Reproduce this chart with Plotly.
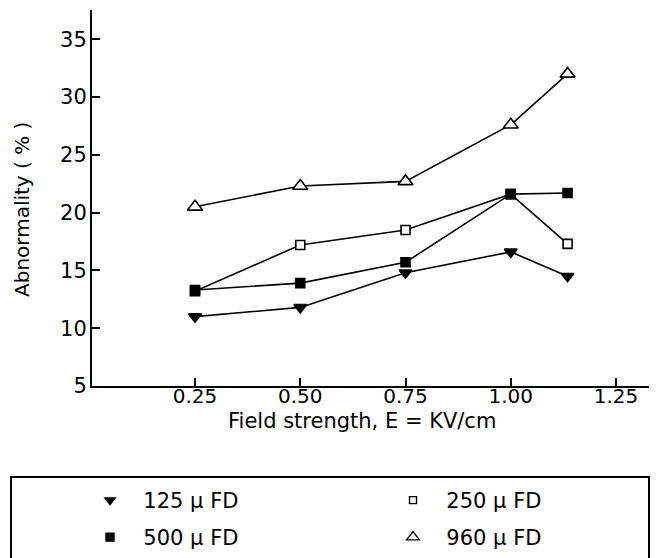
import plotly.graph_objects as go

# ---- data ----
field = [0.25, 0.50, 0.75, 1.00, 1.135]
s125 = [11.0, 11.8, 14.8, 16.6, 14.5]
s250 = [13.2, 17.2, 18.5, 21.6, 17.3]
s500 = [13.3, 13.9, 15.7, 21.6, 21.7]
s960 = [20.5, 22.3, 22.7, 27.6, 32.0]
names = ["125 \u03bc FD", "250 \u03bc FD", "500 \u03bc FD", "960 \u03bc FD"]
xtick_vals = [0.25, 0.50, 0.75, 1.00, 1.25]
xtick_text = ["0.25", "0.50", "0.75", "1.00", "1.25"]
ytick_vals = [5, 10, 15, 20, 25, 30, 35]

FONT = "DejaVu Sans"
series = [s125, s250, s500, s960]
symbols = ["triangle-down", "square", "square", "triangle-up"]
fills = ["black", "white", "black", "white"]
sizes = [11, 9, 9, 13]
legend_sizes = [9, 7, 8, 11]
legend_ids = ["legend", "legend", "legend2", "legend2"]
legend_widths = [258, 150, 258, 150]

fig = go.Figure()
for ys in series:
    fig.add_trace(go.Scatter(x=field, y=ys, mode="lines",
                             line=dict(color="black", width=1.6),
                             showlegend=False, hoverinfo="skip"))
for ys, sym, fc, sz in zip(series, symbols, fills, sizes):
    fig.add_trace(go.Scatter(x=field, y=ys, mode="markers",
                             marker=dict(symbol=sym, size=sz, color=fc,
                                         line=dict(color="black", width=1.6)),
                             showlegend=False))
# legend-only entries (markers only, smaller, like the reference key)
for name, sym, fc, sz, lg, lw in zip(names, symbols, fills, legend_sizes, legend_ids, legend_widths):
    fig.add_trace(go.Scatter(x=[None], y=[None], mode="markers", name="\u00a0\u00a0" + name,
                             marker=dict(symbol=sym, size=sz, color=fc,
                                         line=dict(color="black", width=1.4)),
                             legend=lg, legendwidth=lw))

W, H = 664, 558
L, R, T, B = 92, 15, 10, 172
pw, ph = W - L - R, H - T - B

def px_x(p):
    return (p - L) / pw

def px_y(p):
    return (H - B - p) / ph

axis_common = dict(showline=True, linecolor="black", linewidth=2, ticks="inside",
                   ticklen=8, tickwidth=1.5, tickcolor="black", showgrid=False,
                   zeroline=False)

legend_common = dict(orientation="h", xref="container", yref="container",
                     xanchor="left", yanchor="top", bgcolor="rgba(0,0,0,0)",
                     font=dict(family=FONT, size=21))

fig.update_layout(
    width=W, height=H,
    margin=dict(l=L, r=R, t=T, b=B, autoexpand=False),
    paper_bgcolor="white", plot_bgcolor="white",
    font=dict(family=FONT, size=21, color="black"),
    xaxis=dict(range=[0.0053, 1.3284], tickvals=xtick_vals, ticktext=xtick_text,
               ticklabelstandoff=-9, tickfont=dict(family=FONT, size=20, color="black"),
               **axis_common),
    yaxis=dict(range=[5, 37.53], tickvals=ytick_vals, ticklabelstandoff=-1,
               tickfont=dict(family=FONT, size=21, color="black"), **axis_common),
    legend=dict(x=90 / W, y=1 - 480 / H, **legend_common),
    legend2=dict(x=90 / W, y=1 - 517 / H, **legend_common),
    showlegend=True,
    annotations=[
        dict(text="Field strength, E = KV/cm", xref="paper", yref="paper",
             x=px_x(362), y=px_y(421), xanchor="center", yanchor="middle",
             showarrow=False, font=dict(family=FONT, size=21, color="black")),
        dict(text="Abnormality ( % )", xref="paper", yref="paper",
             x=px_x(22), y=px_y(210), xanchor="center", yanchor="middle", textangle=-90,
             showarrow=False, font=dict(family=FONT, size=20, color="black")),
    ],
    shapes=[
        dict(type="rect", xref="paper", yref="paper",
             x0=px_x(11), x1=px_x(649), y0=px_y(477), y1=px_y(575),
             line=dict(color="black", width=2), fillcolor="rgba(0,0,0,0)", layer="above"),
    ],
)

fig.write_html("out.html")
